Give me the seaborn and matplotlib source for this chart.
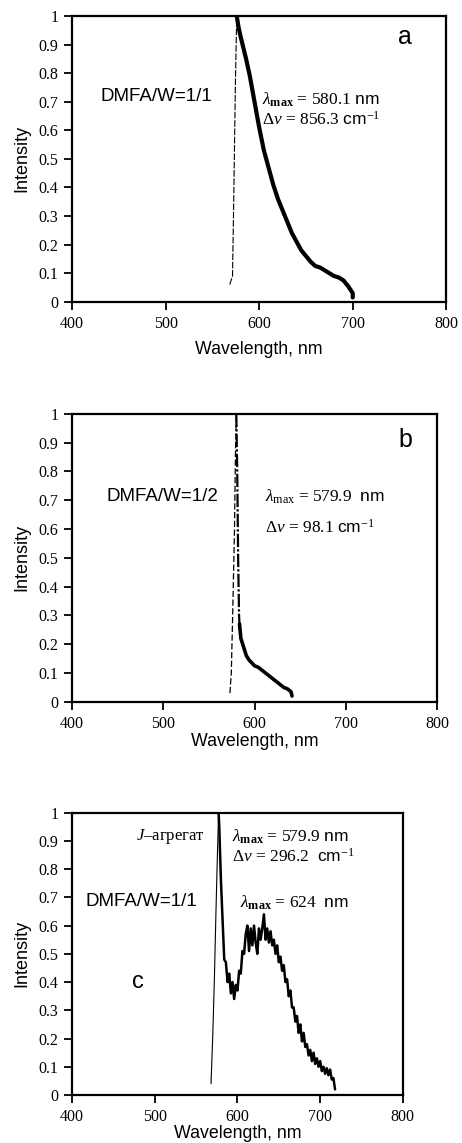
import numpy as np
import pandas as pd
import matplotlib
matplotlib.use("Agg")
import matplotlib.pyplot as plt
import seaborn as sns

# panel a: DMFA/W = 1/1
a_rise_x = [568.5, 570, 571.5, 573, 574.5, 576]
a_rise_y = [0.06, 0.075, 0.09, 0.4, 0.75, 1.0]
a_x = [576, 578, 580, 583, 586, 590, 595, 600, 605, 610, 615, 620, 625, 630,
       635, 640, 645, 650, 655, 660, 665, 670, 675, 680, 685, 690, 695, 700, 700]
a_y = [1.0, 0.96, 0.93, 0.89, 0.85, 0.79, 0.70, 0.61, 0.53, 0.47, 0.41, 0.36,
       0.32, 0.28, 0.24, 0.21, 0.18, 0.16, 0.14, 0.125, 0.12, 0.11, 0.10,
       0.09, 0.085, 0.075, 0.055, 0.03, 0.015]

# panel b: DMFA/W = 1/2
b_rise_x = [573, 574.5, 576, 578, 579, 580]
b_rise_y = [0.03, 0.1, 0.3, 0.6, 0.85, 1.0]
b_fall_x = [580, 581, 582, 583, 583.5]
b_fall_y = [1.0, 0.8, 0.5, 0.3, 0.27]
b_x = [583.5, 585, 588, 591, 594, 597, 600, 604, 608, 612, 616, 620, 624,
       628, 632, 636, 640, 641]
b_y = [0.27, 0.22, 0.19, 0.16, 0.145, 0.135, 0.125, 0.12, 0.11, 0.10, 0.09,
       0.08, 0.07, 0.06, 0.05, 0.045, 0.035, 0.02]

# panel c: DMFA/W = 1/1, J-aggregate + broad band
c_rise_x = [568, 570, 572, 574, 576, 577.2]
c_rise_y = [0.04, 0.2, 0.4, 0.65, 0.88, 1.0]
c_x = [577.2, 578, 580, 582, 584, 586, 588, 590, 592, 594, 596, 598, 600, 602,
       604, 606, 608, 610, 612, 614, 616, 618, 620, 622, 624, 626, 628, 630,
       632, 634, 636, 638, 640, 642, 644, 646, 648, 650, 652, 654, 656, 658,
       660, 662, 664, 666, 668, 670, 672, 674, 676, 678, 680, 682, 684, 686,
       688, 690, 692, 694, 696, 698, 700, 702, 704, 706, 708, 710, 712, 714,
       716, 718]
c_y = [1.0, 0.95, 0.76, 0.62, 0.48, 0.47, 0.40, 0.43, 0.36, 0.40, 0.34, 0.39,
       0.37, 0.44, 0.43, 0.51, 0.50, 0.57, 0.60, 0.51, 0.59, 0.53, 0.60, 0.54,
       0.50, 0.59, 0.55, 0.59, 0.64, 0.55, 0.59, 0.54, 0.58, 0.53, 0.55, 0.50,
       0.53, 0.47, 0.49, 0.44, 0.46, 0.40, 0.41, 0.35, 0.37, 0.31, 0.31, 0.26,
       0.28, 0.22, 0.25, 0.19, 0.22, 0.17, 0.18, 0.14, 0.16, 0.12, 0.15, 0.11,
       0.13, 0.10, 0.12, 0.085, 0.10, 0.075, 0.095, 0.07, 0.09, 0.055, 0.06,
       0.02]

x_ticks = [400, 500, 600, 700, 800]
y_ticks = [0, 0.1, 0.2, 0.3, 0.4, 0.5, 0.6, 0.7, 0.8, 0.9, 1.0]
y_labels = ["0", "0.1", "0.2", "0.3", "0.4", "0.5", "0.6", "0.7", "0.8", "0.9", "1"]

sns.set_style("ticks", rc={
    "axes.edgecolor": "black",
    "text.color": "black",
    "axes.labelcolor": "black",
    "xtick.color": "black",
    "ytick.color": "black",
})
plt.rcParams["font.family"] = ["Liberation Sans", "DejaVu Sans"]
plt.rcParams["mathtext.fontset"] = "custom"
plt.rcParams["mathtext.rm"] = "Liberation Serif"
plt.rcParams["mathtext.it"] = "Liberation Serif:italic"
plt.rcParams["mathtext.bf"] = "Liberation Serif:bold"
plt.rcParams["mathtext.sf"] = "Liberation Sans"

fig = plt.figure(figsize=(4.62, 11.43), dpi=100)
ax_a = fig.add_axes([0.156, 0.736, 0.810, 0.250])
ax_b = fig.add_axes([0.156, 0.386, 0.790, 0.252])
ax_c = fig.add_axes([0.156, 0.042, 0.716, 0.247])

serif = ["Liberation Serif", "DejaVu Serif"]


def line(ax, xs, ys, **kw):
    df = pd.DataFrame({"x": xs, "y": ys})
    sns.lineplot(data=df, x="x", y="y", ax=ax, sort=False, estimator=None,
                 color="black", **kw)


def style(ax, xpad):
    ax.set_xlim(400, 800)
    ax.set_ylim(0, 1)
    ax.set_xticks(x_ticks)
    ax.set_yticks(y_ticks)
    ax.set_yticklabels(y_labels)
    ax.tick_params(direction="out", length=6, width=1.3, labelsize=11.5, pad=4)
    for lab in ax.get_xticklabels() + ax.get_yticklabels():
        lab.set_fontfamily(serif)
    for sp in ax.spines.values():
        sp.set_visible(True)
        sp.set_linewidth(1.6)
    ax.set_xlabel("Wavelength, nm", fontsize=12.8, labelpad=xpad)
    ax.set_ylabel("Intensity", fontsize=13, labelpad=6)


# panel a
line(ax_a, a_rise_x, a_rise_y, lw=0.8, linestyle=(0, (6, 1.5)))
line(ax_a, a_x, a_y, lw=3.0)
style(ax_a, 7)
ax_a.text(756, 0.927, "a", fontsize=18, ha="center", va="center")
ax_a.text(430, 0.717, "DMFA/W=1/1", fontsize=13.5, va="center")
ax_a.text(603, 0.706, r"$\lambda_{\mathbf{max}}$ = 580.1 $\mathsf{nm}$",
          fontsize=12.5, va="center", family=serif)
ax_a.text(603, 0.636, r"$\Delta\nu$ = 856.3 $\mathsf{cm}^{-1}$",
          fontsize=12.5, va="center", family=serif)

# panel b
line(ax_b, b_rise_x, b_rise_y, lw=0.9, linestyle=(0, (5, 2)))
line(ax_b, b_fall_x, b_fall_y, lw=1.6, linestyle=(0, (6, 1, 1, 1)))
line(ax_b, b_x, b_y, lw=2.6)
style(ax_b, 1)
ax_b.text(765, 0.91, "b", fontsize=18, ha="center", va="center")
ax_b.text(438, 0.712, "DMFA/W=1/2", fontsize=13.5, va="center")
ax_b.text(611, 0.712, r"$\lambda_{\mathrm{max}}$ = 579.9  $\mathsf{nm}$",
          fontsize=12.5, va="center", family=serif)
ax_b.text(611, 0.604, r"$\Delta\nu$ = 98.1 $\mathsf{cm}^{-1}$",
          fontsize=12.5, va="center", family=serif)

# panel c
line(ax_c, c_rise_x, c_rise_y, lw=0.8)
line(ax_c, c_x, c_y, lw=1.8)
style(ax_c, 0)
ax_c.text(561, 0.915, r"$J$–агрегат", fontsize=12, ha="right",
          va="center", family=serif)
ax_c.text(593, 0.915, r"$\lambda_{\mathbf{max}}$ = 579.9 $\mathsf{nm}$",
          fontsize=12.5, va="center", family=serif)
ax_c.text(593, 0.844, r"$\Delta\nu$ = 296.2  $\mathsf{cm}^{-1}$",
          fontsize=12.5, va="center", family=serif)
ax_c.text(416, 0.684, "DMFA/W=1/1", fontsize=13.5, va="center")
ax_c.text(603, 0.68, r"$\lambda_{\mathbf{max}}$ = 624  $\mathsf{nm}$",
          fontsize=12.5, va="center", family=serif)
ax_c.text(480, 0.40, "c", fontsize=17, ha="center", va="center")

fig.savefig("out.png", dpi=100)
